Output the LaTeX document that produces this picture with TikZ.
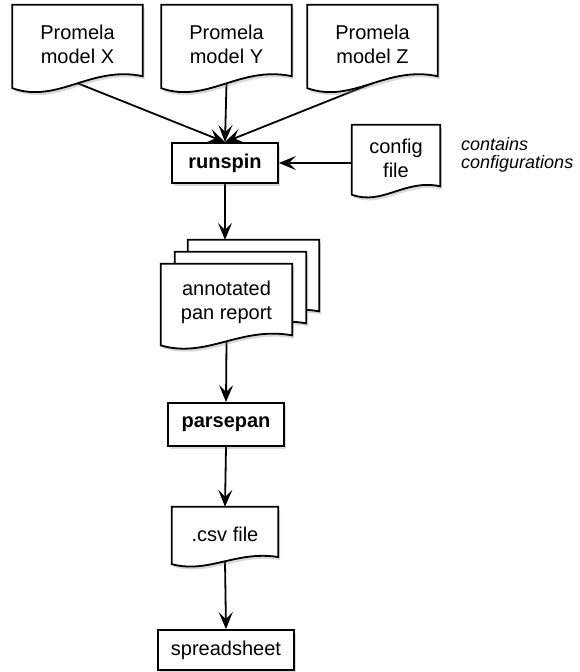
\documentclass[tikz,border=0pt]{standalone}
\usepackage{fontspec}
\setmainfont{Liberation Sans}
\usetikzlibrary{arrows.meta,calc,shadows}

\pgfdeclarelayer{background}
\pgfsetlayers{background,main}

\tikzset{
  base/.style={font=\fontsize{20}{24}\selectfont, align=center, inner sep=0pt},
  doc/.style={base, minimum width=130pt},
  report/.style={doc, minimum width=131pt, minimum height=77pt},
  box/.style={base, draw, fill=white, line width=1.8pt, minimum height=40pt,
    drop shadow={opacity=0.3, shadow xshift=2pt, shadow yshift=-3pt}},
  prog/.style={box, font=\fontsize{20}{24}\selectfont\bfseries},
  note/.style={font=\fontsize{18}{18.5}\selectfont\itshape, align=left, inner sep=0pt},
  docline/.style={draw, fill=white, line width=1.8pt,
    drop shadow={opacity=0.3, shadow xshift=2pt, shadow yshift=-3pt}},
  flow/.style={line width=1.8pt, -{Stealth[length=17pt,width=14pt,inset=7pt]}},
}

% outline of a document page with a wavy foot
\newcommand{\docpage}[2]{%
  \draw[docline] (#1.north west) -- (#1.north east)
    -- ($(#1.south east)+(0,-1.4*#2)$)
    .. controls ($(#1.south)!0.2!(#1.south east)+(0,-3.6*#2)$)
       and ($(#1.south)!0.3!(#1.south west)+(0,4.2*#2)$)
    .. ($(#1.south west)+(0,#2)$) -- cycle;}

\begin{document}
\begin{tikzpicture}[x=1pt,y=-1pt]
  \useasboundingbox (0,0) rectangle (579,672);

  % models and config
  \node[doc, minimum height=78pt] (modX) at (77.5,44) {Promela\\model X};
  \node[doc, minimum height=78pt] (modY) at (226.5,44) {Promela\\model Y};
  \node[doc, minimum height=78pt] (modZ) at (372.5,44) {Promela\\model Z};
  \node[prog, minimum width=106pt] (runspin) at (225,163) {runspin};
  \node[doc, minimum width=88pt, minimum height=66pt] (config) at (396,158) {config\\file};
  \node[note, anchor=west] (cfgnote) at (461,155) {contains\\configurations};

  % reports
  \node[report] (rep1) at (226.5,302.5) {annotated\\pan report};
  \node[report] (rep2) at ($(rep1)+(14,-12)$) {};
  \node[report] (rep3) at ($(rep1)+(27,-24)$) {};

  \node[prog, minimum width=116pt, minimum height=43pt] (parsepan) at (226,424.5) {parsepan};
  \node[doc, minimum width=106pt, minimum height=54pt] (csv) at (225,534) {.csv file};
  \node[box, minimum width=136pt] (sheet) at (226,650) {spreadsheet};

  \begin{pgfonlayer}{background}
    \foreach \m in {modX,modY,modZ}
      \draw[flow] (\m.south) -- (runspin.north);
    \draw[flow] (config.west |- runspin.east) -- (runspin.east);
    \draw[flow] (runspin.south) -- (runspin.south |- rep3.north);
    \draw[flow] (rep1.south) -- (parsepan.north);
    \draw[flow] (parsepan.south) -- (csv.north);
    \draw[flow] (csv.south) -- (sheet.north);
    \foreach \m/\d in {modX/5,modY/5,modZ/5,config/3.5,rep3/4.2,rep2/4.2,rep1/4.2,csv/3}
      {\docpage{\m}{\d}}
  \end{pgfonlayer}
\end{tikzpicture}
\end{document}
